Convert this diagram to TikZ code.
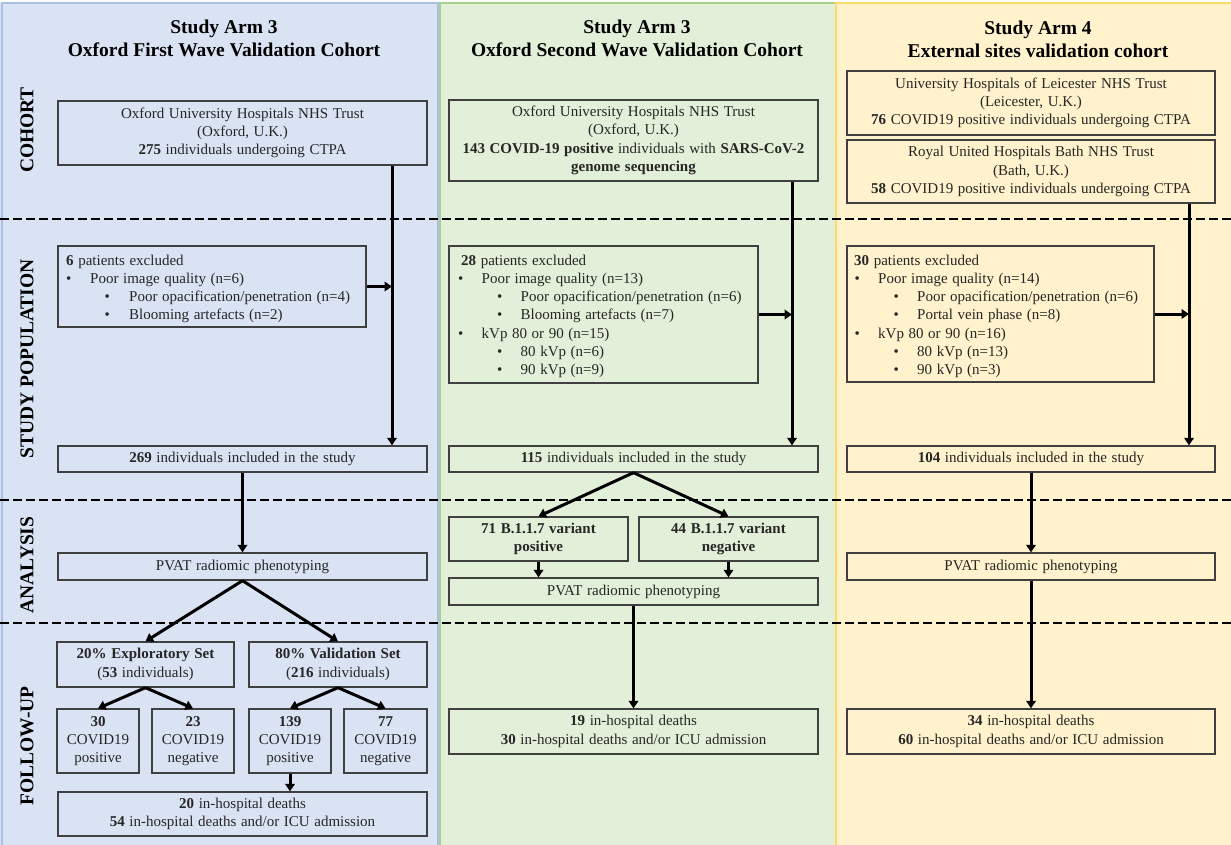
\documentclass[tikz,border=0pt]{standalone}
\usepackage{fontspec}
\setmainfont{Liberation Serif}
\usetikzlibrary{arrows.meta}
\definecolor{pblue}{HTML}{DAE3F3}
\definecolor{pbluedraw}{HTML}{A9BFE3}
\definecolor{pgreen}{HTML}{E2F0D9}
\definecolor{pgreendraw}{HTML}{A9D18E}
\definecolor{pyellow}{HTML}{FFF2CC}
\definecolor{pyellowdraw}{HTML}{FFD966}
\definecolor{boxgray}{HTML}{404040}
\definecolor{txtgray}{HTML}{262626}
\newcommand\bodyfont{\fontsize{15}{18.3}\selectfont\spaceskip=4.6pt plus 1pt\relax}
\tikzset{
  bx/.style={draw=boxgray, line width=1.3pt, inner sep=0pt, align=center,
    text=txtgray, font=\bodyfont},
  exl/.style={anchor=base west, inner sep=0pt, text=txtgray, font=\bodyfont},
  ttl/.style={align=center, inner sep=0pt, text=black,
    font=\fontsize{19.5}{23}\selectfont\bfseries},
  vlab/.style={rotate=90, inner sep=0pt, text=black,
    font=\fontsize{19.5}{23}\selectfont\bfseries},
  arr/.style={line width=3pt, -{Triangle[width=9.5pt,length=7.5pt]}},
  sep/.style={line width=2.2pt, dash pattern=on 8.5pt off 4.5pt},
}
\begin{document}
\begin{tikzpicture}[x=1pt,y=-1pt]
\useasboundingbox (0,0) rectangle (1231,844);
% panels
\fill[pblue] (0,3) rectangle (438,850);
\draw[pbluedraw, line width=1.5pt] (2,850) -- (2,3) -- (438,3) -- (438,850);
\fill[pgreen] (439.5,3) rectangle (835,850);
\draw[pgreendraw, line width=1.5pt] (440,850) -- (440,3) -- (835,3);
\fill[pyellow] (835,3) rectangle (1233,850);
\draw[pyellowdraw, line width=1.5pt] (836,850) -- (836,3) -- (1233,3);

% separators
\draw[sep] (0,219) -- (1231,219);
\draw[sep] (0,500) -- (1231,500);
\draw[sep] (0,623) -- (1231,623);

% titles
\node[ttl] (tA) at (224,38.5) {Study Arm 3\\Oxford First Wave Validation Cohort};
\node[ttl] (tB) at (637,38.5) {Study Arm 3\\Oxford Second Wave Validation Cohort};
\node[ttl] (tC) at (1038,39.5) {Study Arm 4\\External sites validation cohort};

% vertical labels
\node[vlab] (lc) at (27,130) {COHORT};
\node[vlab] (ls) at (27,359) {STUDY POPULATION};
\node[vlab] (la) at (27,565) {ANALYSIS};
\node[vlab] (lf) at (27,746) {FOLLOW-UP};

% trunk x positions
\coordinate (xA) at (392,0);
\coordinate (xB) at (792,0);
\coordinate (xC) at (1189,0);

% ---------- Arm A (blue) ----------
\node[bx, minimum width=369pt, minimum height=64pt] (cohA) at (242.5,133)
  {Oxford University Hospitals NHS Trust\\(Oxford, U.K.)\\\textbf{275} individuals undergoing CTPA};
\node[bx, minimum width=308pt, minimum height=81pt] (exA) at (212,286.5) {};
\node[exl] (exA1) at (66,265) {\textbf{6} patients excluded};
\node[exl] (exA2) at (66,283.3) {\textbullet};
\node[exl] (exA3) at (90,283.3) {Poor image quality (n=6)};
\node[exl] (exA4) at (104.5,301.6) {\textbullet};
\node[exl] (exA5) at (129,301.6) {Poor opacification/penetration (n=4)};
\node[exl] (exA6) at (104.5,319.9) {\textbullet};
\node[exl] (exA7) at (129,319.9) {Blooming artefacts (n=2)};
\node[bx, minimum width=369pt, minimum height=26pt] (inA) at (242.5,459)
  {\textbf{269} individuals included in the study};
\node[bx, minimum width=369pt, minimum height=27pt] (pvA) at (242.5,566.5)
  {PVAT radiomic phenotyping};
\node[bx, minimum width=177pt, minimum height=45pt] (expA) at (145.5,664.5)
  {\textbf{20\% Exploratory Set}\\(\textbf{53} individuals)};
\node[bx, minimum width=178pt, minimum height=45pt] (valA) at (338,664.5)
  {\textbf{80\% Validation Set}\\(\textbf{216} individuals)};
\node[bx, minimum width=82pt, minimum height=64pt] (p30) at (98,741)
  {\textbf{30}\\COVID19\\positive};
\node[bx, minimum width=82pt, minimum height=64pt] (n23) at (193,741)
  {\textbf{23}\\COVID19\\negative};
\node[bx, minimum width=82pt, minimum height=64pt] (p139) at (290,741)
  {\textbf{139}\\COVID19\\positive};
\node[bx, minimum width=83pt, minimum height=64pt] (n77) at (385.5,741)
  {\textbf{77}\\COVID19\\negative};
\node[bx, minimum width=369pt, minimum height=44pt] (finA) at (242.5,814)
  {\textbf{20} in-hospital deaths\\\textbf{54} in-hospital deaths and/or ICU admission};

\draw[arr] (cohA.south -| xA) -- (inA.north -| xA);
\draw[arr] (exA.east) -- (exA.east -| xA);
\draw[arr] (inA.south) -- (pvA.north);
\draw[arr] (pvA.south) -- (expA.north);
\draw[arr] (pvA.south) -- (valA.north);
\draw[arr] (expA.south) -- (p30.north);
\draw[arr] (expA.south) -- (n23.north);
\draw[arr] (valA.south) -- (p139.north);
\draw[arr] (valA.south) -- (n77.north);
\draw[arr] (p139.south) -- (p139.south |- finA.north);

% ---------- Arm B (green) ----------
\node[bx, minimum width=369pt, minimum height=81pt] (cohB) at (633.5,140.5)
  {Oxford University Hospitals NHS Trust\\(Oxford, U.K.)\\\textbf{143 COVID-19 positive} individuals with \textbf{SARS-CoV-2}\\\textbf{genome sequencing}};
\node[bx, minimum width=309pt, minimum height=137pt] (exB) at (603.5,314.5) {};
\node[exl] (exB1) at (461,265) {\textbf{28} patients excluded};
\node[exl] (exB2) at (458,283.3) {\textbullet};
\node[exl] (exB3) at (481.5,283.3) {Poor image quality (n=13)};
\node[exl] (exB4) at (497,301.6) {\textbullet};
\node[exl] (exB5) at (520.5,301.6) {Poor opacification/penetration (n=6)};
\node[exl] (exB6) at (497,319.9) {\textbullet};
\node[exl] (exB7) at (520.5,319.9) {Blooming artefacts (n=7)};
\node[exl] (exB8) at (458,338.2) {\textbullet};
\node[exl] (exB9) at (481.5,338.2) {kVp 80 or 90 (n=15)};
\node[exl] (exB10) at (497,356.5) {\textbullet};
\node[exl] (exB11) at (520.5,356.5) {80 kVp (n=6)};
\node[exl] (exB12) at (497,374.8) {\textbullet};
\node[exl] (exB13) at (520.5,374.8) {90 kVp (n=9)};
\node[bx, minimum width=369pt, minimum height=26pt] (inB) at (633.5,459)
  {\textbf{115} individuals included in the study};
\node[bx, minimum width=179pt, minimum height=44pt] (v71) at (538.5,539)
  {\textbf{71 B.1.1.7 variant}\\\textbf{positive}};
\node[bx, minimum width=179pt, minimum height=44pt] (v44) at (728.5,539)
  {\textbf{44 B.1.1.7 variant}\\\textbf{negative}};
\node[bx, minimum width=369pt, minimum height=27pt] (pvB) at (633.5,591.5)
  {PVAT radiomic phenotyping};
\node[bx, minimum width=369pt, minimum height=45pt] (finB) at (633.5,731.5)
  {\textbf{19} in-hospital deaths\\\textbf{30} in-hospital deaths and/or ICU admission};

\draw[arr] (cohB.south -| xB) -- (inB.north -| xB);
\draw[arr] (exB.east) -- (exB.east -| xB);
\draw[arr] (inB.south) -- (v71.north);
\draw[arr] (inB.south) -- (v44.north);
\draw[arr] (v71.south) -- (v71.south |- pvB.north);
\draw[arr] (v44.south) -- (v44.south |- pvB.north);
\draw[arr] (pvB.south) -- (finB.north);

% ---------- Arm C (yellow) ----------
\node[bx, minimum width=368pt, minimum height=64pt] (leiC) at (1031,103)
  {University Hospitals of Leicester NHS Trust\\(Leicester, U.K.)\\\textbf{76} COVID19 positive individuals undergoing CTPA};
\node[bx, minimum width=368pt, minimum height=63pt] (bthC) at (1031,171.5)
  {Royal United Hospitals Bath NHS Trust\\(Bath, U.K.)\\\textbf{58} COVID19 positive individuals undergoing CTPA};
\node[bx, minimum width=307pt, minimum height=136pt] (exC) at (1000.5,314) {};
\node[exl] (exC1) at (854,265) {\textbf{30} patients excluded};
\node[exl] (exC2) at (854.5,283.3) {\textbullet};
\node[exl] (exC3) at (878,283.3) {Poor image quality (n=14)};
\node[exl] (exC4) at (893.5,301.6) {\textbullet};
\node[exl] (exC5) at (917,301.6) {Poor opacification/penetration (n=6)};
\node[exl] (exC6) at (893.5,319.9) {\textbullet};
\node[exl] (exC7) at (917,319.9) {Portal vein phase (n=8)};
\node[exl] (exC8) at (854.5,338.2) {\textbullet};
\node[exl] (exC9) at (878,338.2) {kVp 80 or 90 (n=16)};
\node[exl] (exC10) at (893.5,356.5) {\textbullet};
\node[exl] (exC11) at (917,356.5) {80 kVp (n=13)};
\node[exl] (exC12) at (893.5,374.8) {\textbullet};
\node[exl] (exC13) at (917,374.8) {90 kVp (n=3)};
\node[bx, minimum width=368pt, minimum height=26pt] (inC) at (1031,459)
  {\textbf{104} individuals included in the study};
\node[bx, minimum width=368pt, minimum height=27pt] (pvC) at (1031,566.5)
  {PVAT radiomic phenotyping};
\node[bx, minimum width=368pt, minimum height=45pt] (finC) at (1031,731.5)
  {\textbf{34} in-hospital deaths\\\textbf{60} in-hospital deaths and/or ICU admission};

\draw[arr] (bthC.south -| xC) -- (inC.north -| xC);
\draw[arr] (exC.east) -- (exC.east -| xC);
\draw[arr] (inC.south) -- (pvC.north);
\draw[arr] (pvC.south) -- (finC.north);
\end{tikzpicture}
\end{document}
